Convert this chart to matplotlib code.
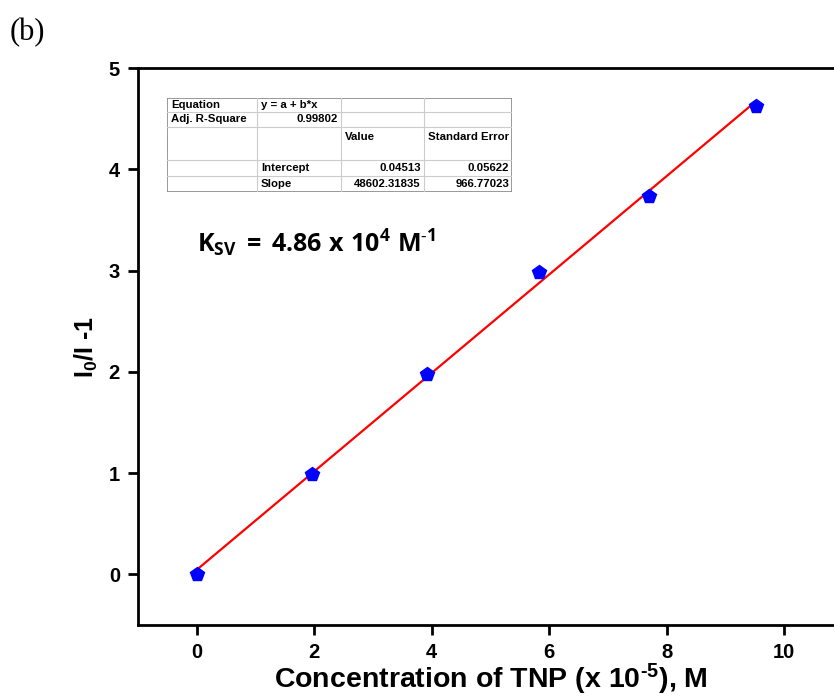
import matplotlib
matplotlib.use("Agg")
import matplotlib.pyplot as plt
import numpy as np

# data
conc = [0.0, 1.97, 3.92, 5.83, 7.69, 9.52]        # x 10^-5 M
ratio = [0.0, 0.99, 1.98, 2.99, 3.74, 4.62]       # I0/I - 1
intercept = 0.04513
slope = 0.4860231835                               # per 1e-5 M
fit_x = [0.0, 9.52]

xticks = [0, 2, 4, 6, 8, 10]
yticks = [0, 1, 2, 3, 4, 5]

# fit summary table (Origin style)
table_rows = [
    ["Equation", "y = a + b*x", "", ""],
    ["Adj. R-Square", "0.99802", "", ""],
    ["", "", "Value", "Standard Error"],
    ["", "Intercept", "0.04513", "0.05622"],
    ["", "Slope", "48602.31835", "966.77023"],
]

plt.rcParams["mathtext.fontset"] = "custom"
plt.rcParams["mathtext.bf"] = "Liberation Sans:bold"
plt.rcParams["mathtext.rm"] = "Liberation Sans:bold"
plt.rcParams["mathtext.it"] = "Liberation Sans:bold"
plt.rcParams["mathtext.sf"] = "Open Sans:bold"

HY = "\u2010"  # plain hyphen, so mathtext does not draw a long minus

W, H = 834, 700
fig = plt.figure(figsize=(W / 100, H / 100), dpi=100)
fig.patch.set_facecolor("white")

ax = fig.add_axes([138 / W, 1 - 625 / H, (843 - 138) / W, (625 - 68) / H])
ax.set_xlim(-1, 11)
ax.set_ylim(-0.5, 5)

fx = np.array(fit_x)
ax.plot(fx, intercept + slope * fx, color="red", linewidth=1.6, zorder=2)
ax.plot(conc, ratio, linestyle="none", marker="p", markersize=10.5,
        color="blue", markeredgecolor="blue", zorder=3)

ax.set_xticks(xticks)
ax.set_yticks(yticks)
ax.tick_params(direction="out", length=7, width=2, pad=6, labelsize=14.5)
for lab in ax.get_xticklabels() + ax.get_yticklabels():
    lab.set_fontweight("bold")
    lab.set_fontfamily("Liberation Sans")
for sp in ax.spines.values():
    sp.set_linewidth(2)

ax.set_xlabel("Concentration of TNP (x 10$^{\\mathrm{" + HY + "5}}$), M",
              fontsize=20.5, fontweight="bold", family="Liberation Sans", labelpad=0)
ax.set_ylabel(r"I$_{\mathrm{0}}$/I -1", fontsize=18, fontweight="bold",
              family="Liberation Sans", labelpad=6)

ax.text(197 / W, 1 - 243 / H,
        r"$\mathsf{K_{SV}\;=\;4.86\ x\ 10^{4}\ M^{" + HY + "1}}$",
        transform=fig.transFigure, fontsize=18, va="center", ha="left")

fig.text(10 / W, 1 - 33 / H, "(b)", fontsize=22, family="Liberation Serif",
         va="center", ha="left")

# table as a small inset drawn in pixel units
tx0, ty0, tx1, ty1 = 167, 98, 512, 192
cols = [0, 90, 174, 257, tx1 - tx0]
rows = [0, 14, 29, 62, 78, ty1 - ty0]
tab = fig.add_axes([tx0 / W, 1 - ty1 / H, (tx1 - tx0) / W, (ty1 - ty0) / H])
tab.set_xlim(0, tx1 - tx0)
tab.set_ylim(ty1 - ty0, 0)
tab.axis("off")
tab.add_patch(plt.Rectangle((0, 0), tx1 - tx0, ty1 - ty0, facecolor="white",
                            edgecolor="#888888", linewidth=1.2))
for c in cols[1:-1]:
    tab.plot([c, c], [0, ty1 - ty0], color="#cccccc", linewidth=0.8)
for r in rows[1:-1]:
    tab.plot([0, tx1 - tx0], [r, r], color="#cccccc", linewidth=0.8)

right_cols = {(1, 1), (3, 2), (3, 3), (4, 2), (4, 3)}
for i, row in enumerate(table_rows):
    for j, s in enumerate(row):
        if not s:
            continue
        if i == 2:
            y = rows[i] + 10
        else:
            y = (rows[i] + rows[i + 1]) / 2
        if (i, j) in right_cols:
            tab.text(cols[j + 1] - 3, y, s, ha="right", va="center",
                     fontsize=8.2, fontweight="bold", family="Liberation Sans")
        else:
            tab.text(cols[j] + 4, y, s, ha="left", va="center",
                     fontsize=8.2, fontweight="bold", family="Liberation Sans")

fig.savefig("out.png", dpi=100)
